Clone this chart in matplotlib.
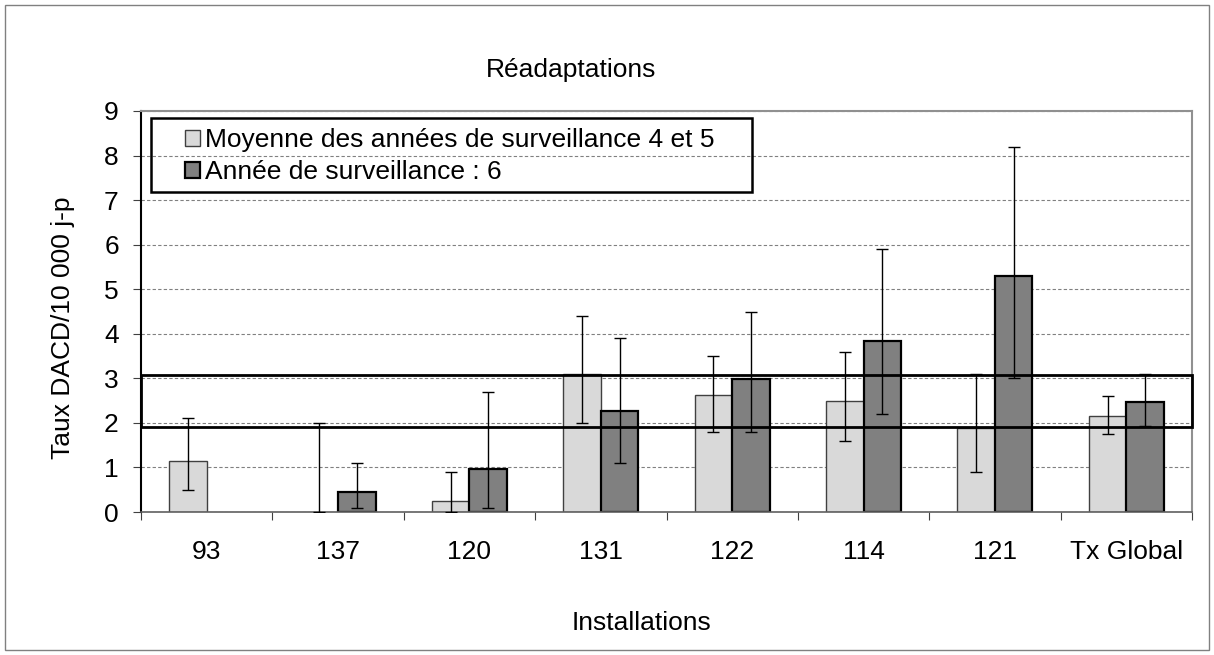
import matplotlib
matplotlib.use('Agg')
import matplotlib.pyplot as plt
from matplotlib.patches import Rectangle, Patch
import numpy as np

plt.rcParams['font.family'] = ['Liberation Sans', 'DejaVu Sans']

# Données
installations = ['93', '137', '120', '131', '122', '114', '121', 'Tx Global']
moy_45 = [1.15, 0.0, 0.25, 3.10, 2.63, 2.50, 1.88, 2.15]
moy_45_bas = [0.50, 0.0, 0.0, 2.00, 1.80, 1.60, 0.90, 1.75]
moy_45_haut = [2.10, 2.00, 0.90, 4.40, 3.50, 3.60, 3.10, 2.60]
annee_6 = [0.0, 0.45, 0.97, 2.27, 2.99, 3.84, 5.29, 2.48]
annee_6_bas = [0.0, 0.10, 0.10, 1.10, 1.80, 2.20, 3.00, 1.93]
annee_6_haut = [0.0, 1.10, 2.70, 3.90, 4.50, 5.90, 8.20, 3.10]
bande_bas, bande_haut = 1.9, 3.08

labels = ['Moyenne des années de surveillance 4 et 5', 'Année de surveillance : 6']

fig = plt.figure(figsize=(12.14, 6.55), dpi=100)
ax = fig.add_axes([141 / 1214, 143 / 655, 1051 / 1214, 401 / 655])

x = np.arange(len(installations))
w = 0.285
m45 = np.array(moy_45)
a6 = np.array(annee_6)
err45 = [m45 - np.array(moy_45_bas), np.array(moy_45_haut) - m45]
err6 = [a6 - np.array(annee_6_bas), np.array(annee_6_haut) - a6]
err6 = [np.clip(e, 0, None) for e in err6]

b1 = ax.bar(x - w / 2, m45, w, color='#d9d9d9', edgecolor='#404040', linewidth=1.0, zorder=2)
b2 = ax.bar(x + w / 2, a6, w, color='#808080', edgecolor='black', linewidth=1.6, zorder=2)
# pas de trait pour les barres à zéro
for bars in (b1, b2):
    for r in bars:
        if r.get_height() == 0:
            r.set_visible(False)

ax.errorbar(x - w / 2, m45, yerr=err45, fmt='none', ecolor='black', elinewidth=1.0,
            capsize=4, capthick=1.0, zorder=3)
ax.errorbar((x + w / 2)[1:], a6[1:], yerr=[e[1:] for e in err6], fmt='none', ecolor='black',
            elinewidth=1.0, capsize=4, capthick=1.0, zorder=3)

# bande de référence
ax.add_patch(Rectangle((-0.5, bande_bas), len(installations), bande_haut - bande_bas,
                       fill=False, edgecolor='black', linewidth=2.0, zorder=4, clip_on=False))

ax.set_xlim(-0.5, len(installations) - 0.5)
ax.set_ylim(0, 9)
ax.set_yticks(range(0, 10))
ax.set_xticks(np.arange(len(installations) + 1) - 0.5, minor=False)
ax.set_xticklabels([])
ax.set_xticks(x, minor=True)
ax.set_xticklabels(installations, minor=True)
ax.tick_params(axis='x', which='minor', length=0, pad=20, labelsize=19)
ax.tick_params(axis='x', which='major', length=6, color='#404040', direction='out')
ax.tick_params(axis='y', length=6, pad=10, labelsize=19, color='#404040')

ax.yaxis.grid(True, linestyle=(0, (3, 2)), color='#808080', linewidth=0.8, zorder=0)
ax.set_axisbelow(True)
for s in ['top', 'right']:
    ax.spines[s].set_color('#909090')
    ax.spines[s].set_linewidth(1.5)
ax.spines['left'].set_color('black')
ax.spines['left'].set_linewidth(1.5)
ax.spines['bottom'].set_color('#606060')
ax.spines['bottom'].set_linewidth(1.2)

# légende
handles = [Patch(facecolor='#d9d9d9', edgecolor='#404040', linewidth=1.0),
           Patch(facecolor='#808080', edgecolor='black', linewidth=1.6)]
ax.add_patch(Rectangle((0.0095, 0.798), 0.5718, 0.1845, transform=ax.transAxes,
                       fill=False, edgecolor='black', linewidth=1.8, zorder=5, clip_on=False))
ax.legend(handles, labels, loc='center left', bbox_to_anchor=(0.0419, 0.8878),
          frameon=False, fontsize=19, handlelength=0.57, handleheight=0.57,
          handletextpad=0.2, borderpad=0, borderaxespad=0, labelspacing=0.3)

fig.text(571 / 1214, 0.893, 'Réadaptations', fontsize=19, ha='center', va='center')
fig.text(642 / 1214, 0.049, 'Installations', fontsize=19, ha='center', va='center')
fig.text(63 / 1214, 0.5, 'Taux DACD/10 000 j-p', fontsize=19, ha='center', va='center', rotation=90)

fig.patches.append(Rectangle((5 / 1214, 5 / 655), 1204 / 1214, 645 / 655, transform=fig.transFigure,
                             fill=False, edgecolor='#808080', linewidth=1.0))

fig.savefig('out.png', dpi=100)
